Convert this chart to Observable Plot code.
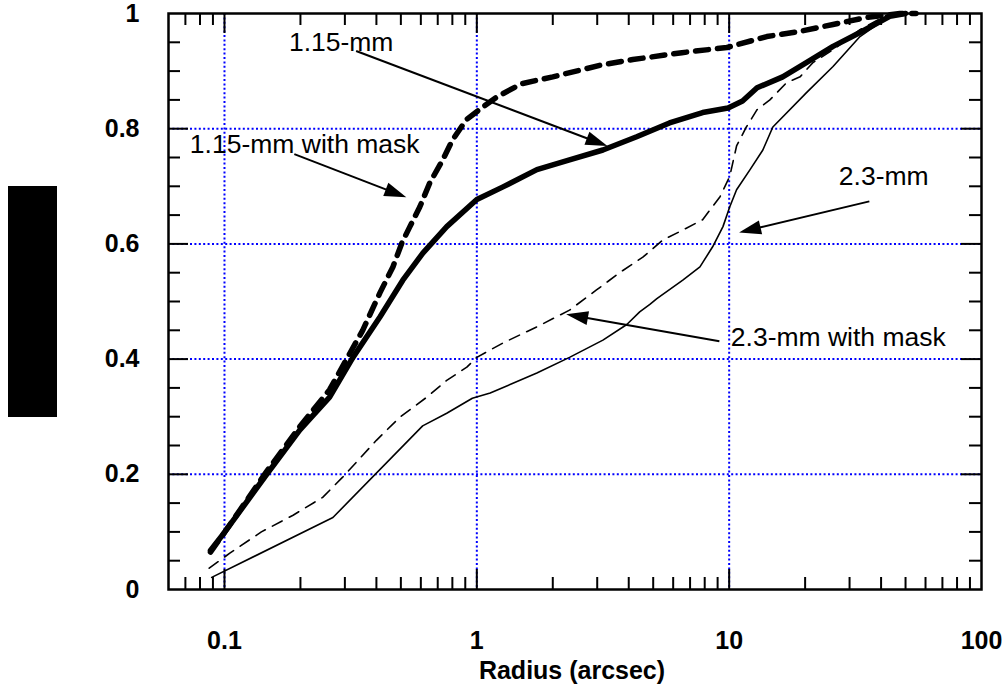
<!DOCTYPE html>
<html><head><meta charset="utf-8">
<script src="https://cdn.jsdelivr.net/npm/d3@7"></script>
<script src="https://cdn.jsdelivr.net/npm/@observablehq/plot@0.6"></script>
<style>
body{margin:0;background:#fff;}
#wrap{position:relative;width:1008px;height:698px;overflow:hidden;}
#wrap svg{position:absolute;left:0;top:0;}
#redact{position:absolute;left:8px;top:186px;width:49px;height:231px;background:#000;}
</style></head><body><div id="wrap"><div id="redact"></div></div>
<script>
// ---- data ----
const s115x = [0.088,0.1,0.147,0.199,0.261,0.323,0.413,0.509,0.611,0.76,1.0,1.27,1.73,2.33,3.16,4.3,5.8,7.85,9.9,11.3,12.9,16.3,20.3,25.8,33,43.3,50];
const s115y = [0.068,0.099,0.2,0.277,0.334,0.403,0.473,0.537,0.584,0.63,0.677,0.699,0.729,0.746,0.763,0.786,0.81,0.828,0.836,0.848,0.871,0.89,0.915,0.943,0.967,0.995,1.0];

const m115x = [0.088,0.1,0.147,0.199,0.261,0.353,0.413,0.465,0.505,0.543,0.594,0.651,0.733,0.80,0.91,1.06,1.2,1.5,2.0,3.07,4.15,6.5,9.8,14.1,19.1,25.8,35,47.5,55];
const m115y = [0.065,0.099,0.205,0.283,0.347,0.45,0.515,0.56,0.602,0.63,0.664,0.706,0.746,0.78,0.816,0.838,0.855,0.878,0.89,0.91,0.92,0.932,0.941,0.96,0.969,0.981,0.993,1.0,1.0];

const s23x = [0.089,0.269,0.61,0.76,0.96,1.13,1.73,2.33,3.16,3.93,4.42,4.85,5.17,6.55,7.66,8.6,9.45,10.05,10.7,12.1,13.6,14.9,20.3,25.8,33,44.6,50];
const s23y = [0.021,0.125,0.284,0.306,0.332,0.341,0.376,0.403,0.433,0.46,0.482,0.495,0.505,0.537,0.56,0.595,0.63,0.664,0.694,0.729,0.763,0.803,0.863,0.908,0.96,1.0,1.0];

const m23x = [0.087,0.105,0.14,0.187,0.245,0.294,0.40,0.495,0.634,0.76,0.913,1.0,1.27,1.73,2.33,2.98,3.68,4.55,5.47,6.55,7.85,9.2,10.05,10.7,11.7,12.9,14.5,16.9,19.1,21.5,25.8,33,43.3,50];
const m23y = [0.037,0.063,0.10,0.129,0.16,0.195,0.259,0.299,0.334,0.363,0.386,0.403,0.428,0.456,0.485,0.52,0.55,0.577,0.607,0.624,0.642,0.682,0.717,0.77,0.803,0.833,0.85,0.88,0.89,0.915,0.937,0.972,1.0,1.0];

const xLabelVals = [0.1, 1, 10, 100];
const xLabels = ["0.1", "1", "10", "100"];
const xMajor = [0.1, 1, 10];
const xMinor = [0.07,0.08,0.09,0.2,0.3,0.4,0.5,0.6,0.7,0.8,0.9,2,3,4,5,6,7,8,9,20,30,40,50,60,70,80,90];
const yLabelVals = [0, 0.2, 0.4, 0.6, 0.8, 1];
const yLabels = ["0", "0.2", "0.4", "0.6", "0.8", "1"];
const yMajor = [0.2, 0.4, 0.6, 0.8];
const yMinor = [0.05,0.1,0.15,0.25,0.3,0.35,0.45,0.5,0.55,0.65,0.7,0.75,0.85,0.9,0.95];
const xTitle = "Radius (arcsec)";

const annText = ["1.15-mm", "1.15-mm with mask", "2.3-mm", "2.3-mm with mask"];
const annX = [0.18, 0.0729, 27.2, 10.15];
const annY = [0.95, 0.772, 0.7165, 0.438];
const arrX1 = [0.334, 0.19, 36.1, 9.19];
const arrY1 = [0.934, 0.755, 0.673, 0.43];
const arrX2 = [3.31, 0.528, 11.0, 2.27];
const arrY2 = [0.769, 0.68, 0.619, 0.477];

// ---- build ----
const W = 1008, H = 698, ML = 168, MR = 27, MT = 13, MB = 109;
const FW = W - ML - MR, FH = H - MT - MB;
const tMinor = 12, tMajor = 20;
const toRows = (xs, ys) => xs.map((x, i) => ({x, y: ys[i]}));
const font = "'Liberation Sans', Arial, Helvetica, sans-serif";

function arrows(index, scales) {
  const g = d3.create("svg:g");
  for (let i = 0; i < arrX1.length; i++) {
    const x1 = scales.x(arrX1[i]), y1 = scales.y(arrY1[i]);
    const x2 = scales.x(arrX2[i]), y2 = scales.y(arrY2[i]);
    const dx = x2 - x1, dy = y2 - y1, L = Math.hypot(dx, dy), ux = dx / L, uy = dy / L;
    const hl = 22, hw = 7;
    const bx = x2 - ux * hl, by = y2 - uy * hl;
    g.append("line").attr("x1", x1).attr("y1", y1).attr("x2", bx + ux * 2).attr("y2", by + uy * 2)
      .attr("stroke", "black").attr("stroke-width", 2);
    g.append("path").attr("d", `M${x2},${y2}L${bx - uy * hw},${by + ux * hw}L${bx + uy * hw},${by - ux * hw}Z`)
      .attr("fill", "black");
  }
  return g.node();
}

const grid = {stroke: "#0000ff", strokeOpacity: 1, strokeWidth: 2, strokeDasharray: "2,2.4"};

const chart = Plot.plot({
  width: W, height: H,
  marginLeft: ML, marginRight: MR, marginTop: MT, marginBottom: MB,
  x: {type: "log", domain: [0.06, 100], axis: null},
  y: {domain: [0, 1], axis: null},
  style: {fontFamily: font, background: "white", color: "black"},
  marks: [
    Plot.gridX(xMajor, grid),
    Plot.gridY(yMajor, grid),
    Plot.line(toRows(s23x, s23y), {x: "x", y: "y", stroke: "black", strokeWidth: 1.6}),
    Plot.line(toRows(m23x, m23y), {x: "x", y: "y", stroke: "black", strokeWidth: 1.6, strokeDasharray: "11,8"}),
    Plot.line(toRows(s115x, s115y), {x: "x", y: "y", stroke: "black", strokeWidth: 5.5, strokeLinejoin: "round"}),
    Plot.line(toRows(m115x, m115y), {x: "x", y: "y", stroke: "black", strokeWidth: 5.5, strokeDasharray: "13,9", strokeLinejoin: "round"}),
    // inward ticks, bottom/top
    Plot.tickX(xMinor, {x: d => d, insetTop: FH - tMinor, stroke: "black", strokeWidth: 2}),
    Plot.tickX(xMinor, {x: d => d, insetBottom: FH - tMinor, stroke: "black", strokeWidth: 2}),
    Plot.tickX(xMajor, {x: d => d, insetTop: FH - tMajor, stroke: "black", strokeWidth: 2}),
    Plot.tickX(xMajor, {x: d => d, insetBottom: FH - tMajor, stroke: "black", strokeWidth: 2}),
    // inward ticks, left/right
    Plot.tickY(yMinor, {y: d => d, insetRight: FW - tMinor, stroke: "black", strokeWidth: 2}),
    Plot.tickY(yMinor, {y: d => d, insetLeft: FW - tMinor, stroke: "black", strokeWidth: 2}),
    Plot.tickY(yMajor, {y: d => d, insetRight: FW - tMajor, stroke: "black", strokeWidth: 2}),
    Plot.tickY(yMajor, {y: d => d, insetLeft: FW - tMajor, stroke: "black", strokeWidth: 2}),
    Plot.frame({stroke: "black", strokeWidth: 2.5}),
    // tick labels
    Plot.text(xLabelVals, {x: d => d, text: (d, i) => xLabels[i], frameAnchor: "bottom", dy: 51, lineAnchor: "middle", fontSize: 25, fontWeight: "bold", fill: "black"}),
    Plot.text(yLabelVals, {y: d => d, text: (d, i) => yLabels[i], frameAnchor: "left", dx: -29, textAnchor: "end", lineAnchor: "middle", fontSize: 25, fontWeight: "bold", fill: "black"}),
    Plot.text([xTitle], {frameAnchor: "bottom", dy: 81, dx: -3, lineAnchor: "middle", fontSize: 25, fontWeight: "bold", fill: "black"}),
    // annotations
    Plot.text(annText, {x: (d, i) => annX[i], y: (d, i) => annY[i], text: d => d, textAnchor: "start", lineAnchor: "middle", fontSize: 26.5, fill: "black"}),
    arrows
  ]
});
document.getElementById("wrap").insertBefore(chart, document.getElementById("redact"));
</script>
</body></html>
